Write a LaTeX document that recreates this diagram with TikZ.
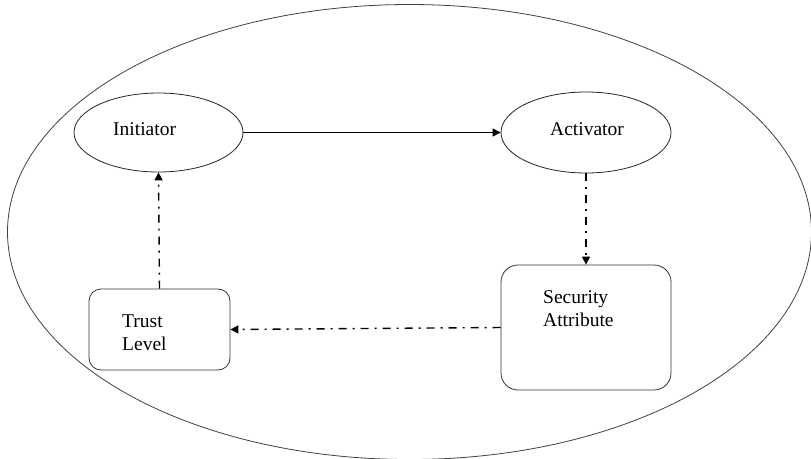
\documentclass[tikz,border=0pt]{standalone}
\usepackage{fontspec}
\setmainfont{Liberation Serif}
\usetikzlibrary{shapes.geometric,arrows.meta}
\begin{document}
\begin{tikzpicture}[x=1pt,y=-1pt,
  every node/.style={font=\fontsize{19.5}{23}\selectfont},
  oval/.style={ellipse,draw=black!85,line width=0.8pt,inner sep=0pt},
  rbox/.style={rectangle,rounded corners=#1,draw=black!80,line width=0.8pt,inner sep=0pt},
  txt/.style={anchor=base west,inner sep=0pt,align=left},
  solidarrow/.style={line width=0.9pt,-{Triangle[length=8pt,width=8pt]}},
  dotdash/.style={line width=1.4pt,dash pattern=on 8pt off 6pt on 2pt off 6pt,-{Triangle[length=8pt,width=8pt]}}]
\useasboundingbox (0,0) rectangle (811,458);
\node[oval,draw=black!75,minimum width=804pt,minimum height=455pt] (outer) at (409.5,232) {};
\node[oval,minimum width=169pt,minimum height=79pt] (ini) at (158.5,132.5) {};
\node[oval,minimum width=170pt,minimum height=81pt] (act) at (586,132.5) {};
\node[rbox=17pt,minimum width=170pt,minimum height=125pt] (sec) at (586,327.5) {};
\node[rbox=12pt,minimum width=141pt,minimum height=81pt] (tru) at (159.5,329.5) {};
\node[txt] (iniT) at (113,135) {Initiator};
\node[txt] (actT) at (550,135) {Activator};
\node[txt] (secT) at (543,326) {Security\\Attribute};
\node[txt] (truT) at (122,350) {Trust\\Level};
\draw[solidarrow] (ini.east) -- (act.west);
\draw[dotdash] (act.south) -- (sec.north);
\draw[dotdash] (sec.west) -- (tru.east);
\draw[dotdash] (tru.north) -- (ini.south);
\end{tikzpicture}
\end{document}
